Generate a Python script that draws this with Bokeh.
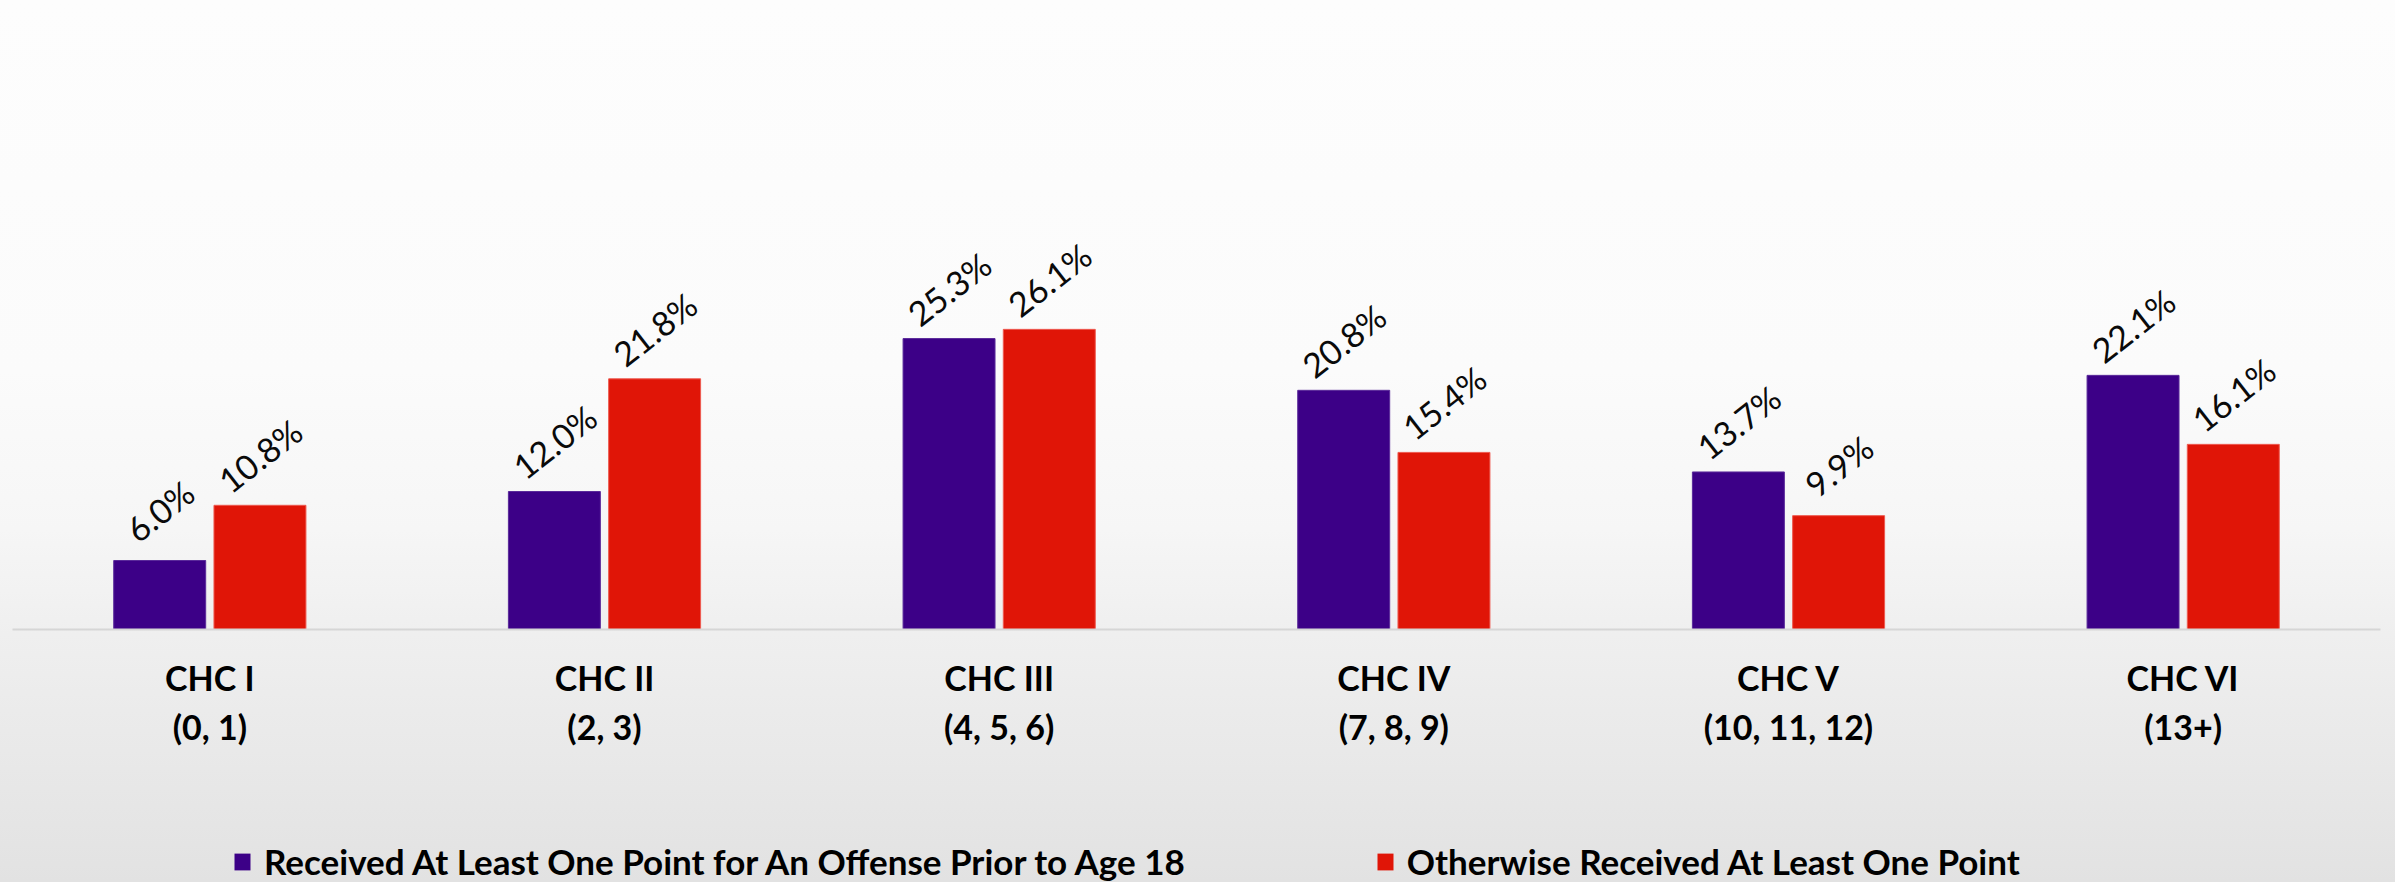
import math
from bokeh.plotting import figure
from bokeh.layouts import column
from bokeh.models import FactorRange, Range1d, ColumnDataSource, Legend, LegendItem
from bokeh.transform import dodge
from bokeh.core.properties import value
from bokeh.embed import file_html
from bokeh.resources import INLINE

categories = ["CHC I\n(0, 1)", "CHC II\n(2, 3)", "CHC III\n(4, 5, 6)",
              "CHC IV\n(7, 8, 9)", "CHC V\n(10, 11, 12)", "CHC VI\n(13+)"]
juvenile = [6.0, 12.0, 25.3, 20.8, 13.7, 22.1]
otherwise = [10.8, 21.8, 26.1, 15.4, 9.9, 16.1]
series_names = ["Received At Least One Point for An Offense Prior to Age 18",
                "Otherwise Received At Least One Point"]
colors = ["#3c0087", "#e01507"]
edge_colors = ["#5a2a9a", "#ee5a50"]

src = ColumnDataSource(dict(
    cat=categories,
    juv=juvenile,
    oth=otherwise,
    juv_lab=[f"{v:.1f}%" for v in juvenile],
    oth_lab=[f"{v:.1f}%" for v in otherwise],
))

xr = FactorRange(*categories)

# main chart: frame 629 px tall, category axis below
p = figure(width=2395, height=800, output_backend="svg", toolbar_location=None,
           x_range=xr, y_range=Range1d(0, 54.7),
           min_border_left=12, min_border_right=15, min_border_top=0, min_border_bottom=171)
p.background_fill_color = None
p.border_fill_color = None
p.outline_line_color = None

off = 0.127
bw = 0.233
p.vbar(x=dodge("cat", -off, range=xr), top="juv", width=bw, source=src,
       fill_color=colors[0], line_color=edge_colors[0], line_width=1)
p.vbar(x=dodge("cat", off, range=xr), top="oth", width=bw, source=src,
       fill_color=colors[1], line_color=edge_colors[1], line_width=1)

ang = math.radians(38)
for col, o in (("juv_lab", -off), ("oth_lab", off)):
    p.text(x=dodge("cat", o, range=xr), y=col.replace("_lab", ""), text=col, source=src,
           angle=ang, y_offset=-50, text_align="center", text_baseline="middle",
           text_font=value("Lato"), text_font_size="34px", text_color="#0a0a0a")

p.yaxis.visible = False
p.xgrid.grid_line_color = None
p.ygrid.grid_line_color = None
ax = p.xaxis[0]
ax.axis_line_color = "#d6d6d6"
ax.axis_line_width = 2
ax.major_tick_line_color = None
ax.minor_tick_line_color = None
ax.major_tick_out = 0
ax.major_label_standoff = 27
ax.major_label_text_font = "Lato"
ax.major_label_text_font_style = "bold"
ax.major_label_text_font_size = "34px"
ax.major_label_text_color = "#000000"

# legend strip: same series drawn against a y range far above their values, so only the legend shows
p2 = figure(width=2395, height=82, output_backend="svg", toolbar_location=None,
            x_range=xr, y_range=Range1d(100, 101), x_axis_type=None, y_axis_type=None,
            min_border_left=0, min_border_right=0, min_border_top=0, min_border_bottom=0)
p2.background_fill_color = None
p2.border_fill_color = None
p2.outline_line_color = None
p2.xgrid.grid_line_color = None
p2.ygrid.grid_line_color = None
l1 = p2.vbar(x=dodge("cat", -off, range=xr), top="juv", width=bw, source=src,
             fill_color=colors[0], line_color=None)
l2 = p2.vbar(x=dodge("cat", off, range=xr), top="oth", width=bw, source=src,
             fill_color=colors[1], line_color=None)

legend = Legend(items=[LegendItem(label=series_names[0], renderers=[l1]),
                       LegendItem(label=series_names[1], renderers=[l2])],
                orientation="horizontal", location=(220, 0),
                glyph_width=20, glyph_height=21, label_standoff=12, spacing=190,
                padding=0, margin=0, border_line_color=None, background_fill_alpha=0,
                label_text_font="Lato", label_text_font_style="bold",
                label_text_font_size="35px", label_text_color="#000000")
p2.add_layout(legend, "center")

root = column(p, p2, spacing=0)
root.styles = {"background": "linear-gradient(to bottom, #fdfdfd 0%, #fbfbfb 42%, #f6f6f6 60%, #efefef 72%, #e9e9e9 85%, #e2e2e2 100%)"}

open("out.html", "w").write(file_html(root, INLINE))
